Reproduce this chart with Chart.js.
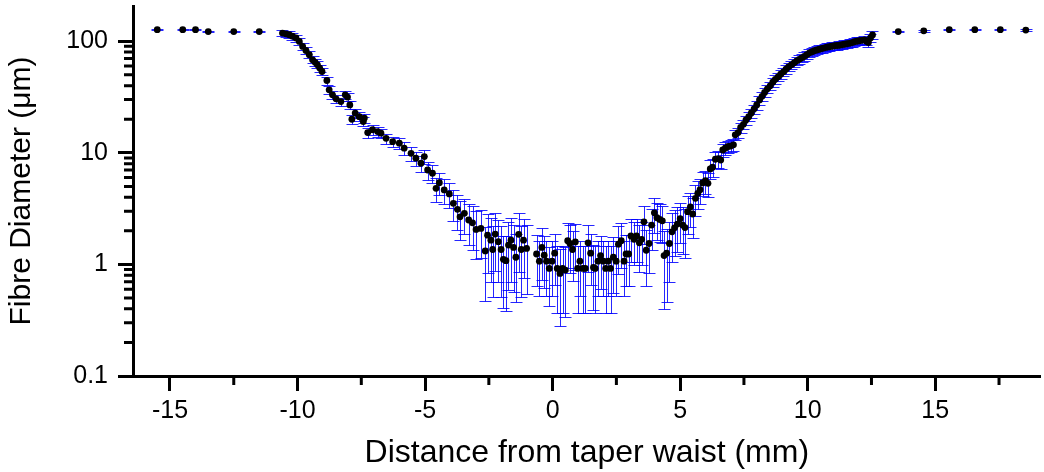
<!DOCTYPE html>
<html><head><meta charset="utf-8">
<script src="https://cdn.jsdelivr.net/npm/chart.js@4.4.0/dist/chart.umd.min.js"></script>
<style>html,body{margin:0;padding:0;background:#fff;}#wrap{width:1044px;height:472px;}</style>
</head><body><div id="wrap"><canvas id="c" width="1044" height="472"></canvas></div>
<script>
const positionMm = [
-15.5,-14.5,-14.0,-13.5,-12.5,-11.5,
-10.59,-10.46,-10.33,-10.20,-10.06,-9.93,-9.80,-9.67,-9.54,-9.41,-9.31,-9.22,-9.13,-9.04,
-8.85,-8.76,-8.63,-8.49,-8.30,-8.13,-8.04,-7.95,-7.87,-7.74,
-7.58,-7.42,-7.38,-7.25,-7.06,-6.86,-6.73,-6.53,-6.27,-6.01,
-5.82,-5.55,-5.36,-5.16,-5.03,-4.90,-4.71,-4.57,-4.44,-4.25,
-4.05,-3.89,-3.73,-3.63,-3.46,-3.29,-3.14,-3.00,-2.81,-2.64,
-2.55,-2.42,-2.35,-2.25,-2.13,-2.02,-1.93,-1.83,-1.73,-1.63,
-1.53,-1.44,-1.33,-1.23,-1.14,-1.02,
-0.63,-0.52,-0.42,-0.33,-0.24,-0.13,-0.02,0.08,0.18,0.29,
0.39,0.50,0.59,0.68,0.78,0.89,0.98,1.07,1.18,1.28,
1.39,1.49,1.60,1.67,1.78,1.88,1.99,2.08,2.18,2.27,
2.38,2.49,2.58,2.69,2.80,2.88,2.98,3.07,3.19,3.29,
3.40,3.49,3.58,3.67,3.78,3.88,3.99,4.09,4.20,4.30,
4.37,4.47,4.58,
4.68,4.78,4.89,5.00,5.10,5.19,5.29,5.40,5.49,5.60,
5.69,5.78,5.88,5.99,6.09,6.18,6.27,6.38,6.49,6.59,
6.67,6.77,6.88,6.98,7.09,7.16,7.27,7.37,7.48,7.58,
7.69,7.79,7.90,8.00,8.11,8.21,8.31,8.42,8.53,8.63,
8.73,8.84,8.94,9.05,9.15,9.25,9.36,9.47,9.57,9.67,
9.77,9.87,9.97,10.07,10.17,10.26,10.36,10.46,10.56,10.66,10.75,10.85,10.95,11.05,11.15,11.24,11.34,11.44,11.54,11.64,
11.74,11.83,11.93,12.03,12.12,12.22,12.30,12.38,12.46,12.54,
13.55,14.55,15.55,16.55,17.55,18.55
];
const diameterUm = [
127,127,127,122,122,122,
118.5,116.5,114.4,111,106.9,99.6,89.8,82.6,75.7,68.2,64.8,61.5,57.5,53.6,
44.5,36.7,33.1,30.5,28.8,33.1,31.6,26.9,20.0,22.7,
21.1,19.1,20.5,15.2,16.1,15.5,15.0,13.5,12.6,12.2,
11.0,9.9,8.95,8.07,9.25,7.02,6.56,4.81,5.40,4.65,
4.28,3.53,3.12,2.67,2.87,2.50,2.36,2.06,2.10,1.32,
1.83,1.65,1.36,1.87,1.60,1.36,1.11,1.08,1.49,1.65,
1.42,1.16,1.86,1.36,1.65,1.39,
1.24,1.07,1.42,1.21,1.07,0.92,1.07,1.26,0.92,0.83,
0.92,0.89,1.63,1.54,1.36,1.59,0.92,1.07,0.92,0.92,
1.56,1.26,0.94,0.92,1.07,1.20,1.07,0.92,1.07,0.92,
1.16,1.07,1.52,1.63,1.07,1.24,1.24,1.80,1.68,1.80,
1.56,1.68,2.41,1.34,1.54,2.25,2.90,2.62,2.53,2.46,
1.20,1.26,1.54,
1.96,2.13,2.30,2.57,2.25,2.14,2.97,3.27,2.83,3.91,
4.34,4.67,5.37,5.62,5.33,7.17,7.43,8.76,8.87,8.63,
10.6,11.0,11.4,11.5,11.8,14.5,15.2,16.9,18.0,19.7,
21.1,22.8,24.8,26.9,29.8,32.1,34.8,37.5,39.9,42.9,
45.6,48.0,50.6,53.2,56.1,59.0,61.5,64.1,66.8,68.9,
71.0,73.3,76.0,78.8,80.5,82.2,83.5,84.8,86.1,87.4,88.4,89.3,90.2,91.1,91.6,92.1,93.0,94.0,95.0,95.9,
97.4,99.0,100,101,102,103,100,97.5,107,114,
122,124,127,127,127,126
];
const diameterErr = [
2,2,2,2,2,2,
8,8,8,8,7.5,7,6.5,6,5.5,5,4.8,4.5,4.2,4,
3.6,3.0,2.8,2.6,2.5,2.8,2.7,2.3,1.8,2.0,
1.9,1.7,1.8,1.5,1.6,1.5,1.5,1.4,1.4,1.4,
1.4,1.4,1.3,1.3,1.3,1.3,1.2,1.2,1.2,1.2,
1.1,1.1,1.1,1.0,1.0,1.0,1.0,0.95,0.95,0.85,
1.0,0.95,0.85,1.0,0.9,0.85,0.7,0.7,0.9,0.95,
0.85,0.7,1.0,0.85,0.9,0.85,
0.6,0.55,0.7,0.6,0.55,0.5,0.55,0.6,0.55,0.55,
0.55,0.55,0.7,0.7,0.65,0.7,0.55,0.55,0.55,0.55,
0.7,0.6,0.55,0.55,0.55,0.6,0.55,0.55,0.55,0.55,
0.6,0.55,0.7,0.7,0.55,0.6,0.6,0.75,0.7,0.75,
0.7,0.7,0.9,0.7,0.7,0.9,1.0,0.95,0.95,0.9,
0.8,0.8,0.85,
0.9,0.95,1.0,1.0,1.0,1.0,1.1,1.1,1.1,1.2,
1.2,1.2,1.3,1.3,1.3,1.4,1.4,1.5,1.5,1.5,
1.4,1.4,1.4,1.4,1.4,1.5,1.6,1.7,1.8,1.9,
2.0,2.1,2.3,2.5,2.7,2.9,3.1,3.3,3.5,3.8,
4.0,4.2,4.4,4.6,4.8,5.0,5.2,5.4,5.6,5.8,
6.0,6.1,6.3,6.5,6.6,6.8,6.9,7.0,7.1,7.2,7.3,7.4,7.4,7.5,7.5,7.6,7.6,7.7,7.8,7.8,
8.0,8.0,8.1,8.2,8.2,8.3,8.1,8.0,8.5,9.0,
2,2,2,2,2,2
];
const xTickValues = [-15,-10,-5,0,5,10,15];
const xMinorTickValues = [-12.5,-7.5,-2.5,2.5,7.5,12.5,17.5];
const yTickValues = [0.1,1,10,100];
const yMinorTickValues = [0.2,0.3,0.4,0.5,0.6,0.7,0.8,0.9,2,3,4,5,6,7,8,9,20,30,40,50,60,70,80,90];
const xAxisTitle = 'Distance from taper waist (mm)';
const yAxisTitle = 'Fibre Diameter (\u03bcm)';

const FONT = "'Liberation Sans', Arial, sans-serif";

const errorBarPlugin = {
  id: 'errorBars',
  beforeDatasetsDraw(chart) {
    const {ctx, scales: {x, y}} = chart;
    ctx.save();
    ctx.strokeStyle = 'rgba(0,0,255,0.85)';
    ctx.lineWidth = 1;
    for (let i = 0; i < positionMm.length; i++) {
      const px = Math.round(x.getPixelForValue(positionMm[i])) + 0.5;
      const hi = Math.round(y.getPixelForValue(diameterUm[i] + diameterErr[i])) + 0.5;
      const lo = Math.round(y.getPixelForValue(Math.max(diameterUm[i] - diameterErr[i], 0.1))) + 0.5;
      ctx.beginPath();
      ctx.moveTo(px, hi); ctx.lineTo(px, lo);
      ctx.moveTo(px - 6, hi); ctx.lineTo(px + 6, hi);
      ctx.moveTo(px - 6, lo); ctx.lineTo(px + 6, lo);
      ctx.stroke();
    }
    ctx.restore();
  }
};

const minorTickPlugin = {
  id: 'minorTicks',
  afterDraw(chart) {
    const {ctx, scales: {x, y}, chartArea} = chart;
    ctx.save();
    ctx.strokeStyle = '#000';
    ctx.lineWidth = 3;
    ctx.beginPath();
    xMinorTickValues.forEach(v => {
      const px = x.getPixelForValue(v);
      ctx.moveTo(px, chartArea.bottom); ctx.lineTo(px, chartArea.bottom + 9);
    });
    yMinorTickValues.forEach(v => {
      const py = y.getPixelForValue(v);
      ctx.moveTo(chartArea.left, py); ctx.lineTo(chartArea.left - 9, py);
    });
    ctx.stroke();
    ctx.restore();
  }
};

const points = positionMm.map((v, i) => ({x: v, y: diameterUm[i]}));

new Chart(document.getElementById('c'), {
  type: 'scatter',
  data: {datasets: [{
    data: points,
    pointRadius: 3.4,
    pointHoverRadius: 3.4,
    backgroundColor: '#000',
    borderColor: '#000',
    borderWidth: 0
  }]},
  options: {
    responsive: false,
    animation: false,
    devicePixelRatio: 1,
    layout: {padding: {left: 0, right: 2, top: 6, bottom: 0}},
    plugins: {legend: {display: false}, tooltip: {enabled: false}},
    scales: {
      x: {
        type: 'linear',
        min: -16.45,
        max: 19.13,
        afterBuildTicks: s => { s.ticks = xTickValues.map(v => ({value: v})); },
        afterFit: s => { s.height = 96; s.paddingLeft = 0; s.paddingRight = 0; },
        grid: {display: true, drawOnChartArea: false, drawTicks: true, tickLength: 15, tickWidth: 3, tickColor: '#000'},
        border: {display: true, color: '#000', width: 3},
        ticks: {font: {family: FONT, size: 25}, color: '#000', padding: 5, autoSkip: false, maxRotation: 0,
          callback: v => String(v)},
        title: {display: true, text: xAxisTitle, font: {family: FONT, size: 32}, color: '#000', padding: {top: 0, bottom: 0}}
      },
      y: {
        type: 'logarithmic',
        min: 0.1,
        max: 207,
        afterBuildTicks: s => { s.ticks = yTickValues.map(v => ({value: v})); },
        afterFit: s => { s.width = 133; s.paddingTop = 0; s.paddingBottom = 0; },
        grid: {display: true, drawOnChartArea: false, drawTicks: true, tickLength: 15, tickWidth: 3, tickColor: '#000'},
        border: {display: true, color: '#000', width: 3},
        ticks: {font: {family: FONT, size: 25}, color: '#000', padding: 10, autoSkip: false,
          callback: v => String(v)},
        title: {display: true, text: yAxisTitle, font: {family: FONT, size: 30}, color: '#000', padding: {top: 4, bottom: 0}}
      }
    }
  },
  plugins: [errorBarPlugin, minorTickPlugin]
});
</script></body></html>
